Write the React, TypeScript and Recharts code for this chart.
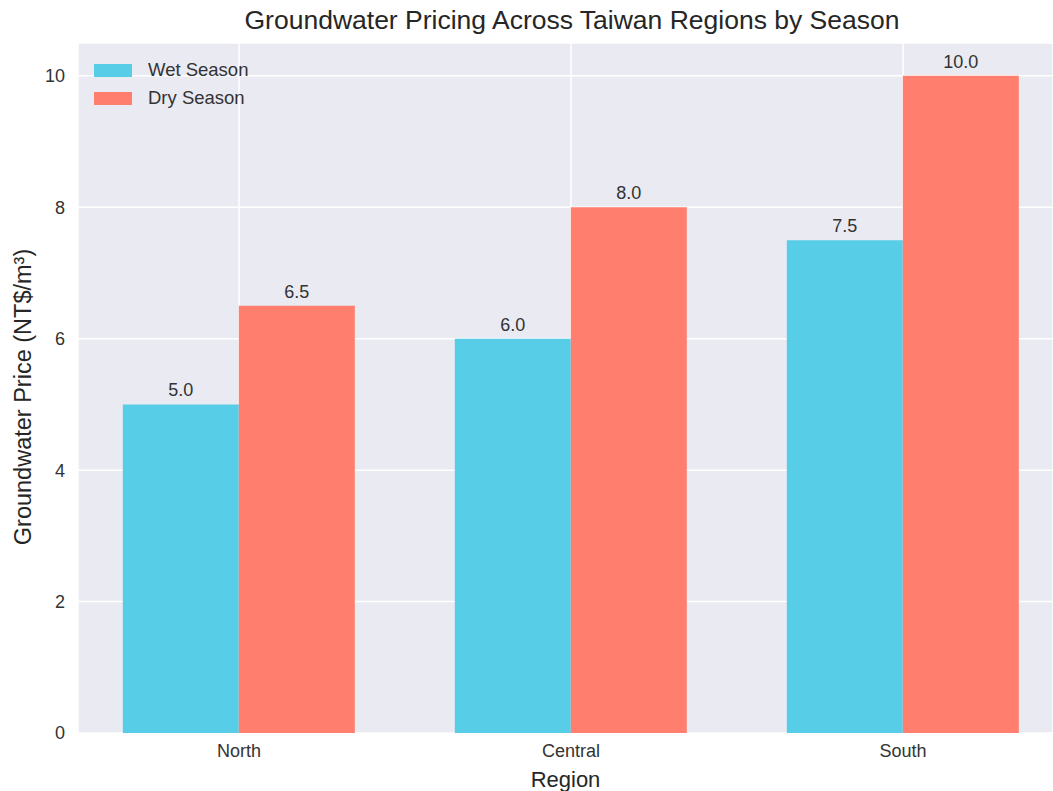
import React from 'react';
import { BarChart, Bar, XAxis, YAxis, CartesianGrid, LabelList } from 'recharts';

const regions = ['North', 'Central', 'South'];
const wetSeason = [5.0, 6.0, 7.5];
const drySeason = [6.5, 8.0, 10.0];
const yTicks = [0, 2, 4, 6, 8, 10];

const WET = '#58CDE7';
const DRY = '#FF7E6D';
const FONT = '"Liberation Sans", Arial, sans-serif';

const data = regions.map((region, i) => ({
  region,
  wet: wetSeason[i],
  dry: drySeason[i],
}));

const LegendBox = () => (
  <div style={{ position: 'absolute', left: 94, top: 56, fontFamily: FONT, fontSize: 18.5, color: '#333', zIndex: 2 }}>
    {[
      { label: 'Wet Season', color: WET },
      { label: 'Dry Season', color: DRY },
    ].map((item) => (
      <div key={item.label} style={{ display: 'flex', alignItems: 'center', height: 28 }}>
        <span style={{ display: 'inline-block', width: 38, height: 13, background: item.color, marginRight: 16 }} />
        {item.label}
      </div>
    ))}
  </div>
);

const YLabel = () => (
  <text
    transform="translate(23,397) rotate(-90)"
    textAnchor="middle"
    dominantBaseline="central"
    fill="#262626"
    fontSize={23.5}
    fontFamily={FONT}
  >
    Groundwater Price (NT$/m³)
  </text>
);

const App = () => {
  return (
    <div style={{ position: 'absolute', left: 0, top: 0, width: 1053, height: 791, background: '#fff', fontFamily: FONT, overflow: 'hidden' }}>
      <div
        style={{
          position: 'absolute',
          top: 5,
          left: 0,
          width: 1144,
          textAlign: 'center',
          fontSize: 26.5,
          color: '#262626',
        }}
      >
        Groundwater Pricing Across Taiwan Regions by Season
      </div>
      <BarChart
        width={1053}
        height={791}
        data={data}
        margin={{ top: 43, right: 0, bottom: 0, left: 0 }}
        barCategoryGap="15%"
        barGap={0}
      >
        <CartesianGrid fill="#EAEAF2" stroke="#ffffff" strokeWidth={1.5} />
        <XAxis
          dataKey="region"
          height={58}
          axisLine={false}
          tickLine={false}
          tickSize={0}
          tickMargin={11}
          padding={{ left: -5, right: -16 }}
          tick={{ fill: '#333', fontSize: 18, fontFamily: FONT }}
          label={{ value: 'Region', position: 'insideBottom', offset: 4, fill: '#262626', fontSize: 22, fontFamily: FONT }}
        />
        <YAxis
          width={78}
          domain={[0, 10.5]}
          ticks={yTicks}
          axisLine={false}
          tickLine={false}
          tickSize={0}
          tickMargin={13}
          tick={{ fill: '#333', fontSize: 18, fontFamily: FONT }}
          label={{ content: () => <YLabel /> }}
        />
        <Bar dataKey="wet" name="Wet Season" fill={WET} isAnimationActive={false}>
          <LabelList
            dataKey="wet"
            position="top"
            offset={8}
            formatter={(v: number) => v.toFixed(1)}
            fill="#333"
            fontSize={18}
            fontFamily={FONT}
          />
        </Bar>
        <Bar dataKey="dry" name="Dry Season" fill={DRY} isAnimationActive={false}>
          <LabelList
            dataKey="dry"
            position="top"
            offset={8}
            formatter={(v: number) => v.toFixed(1)}
            fill="#333"
            fontSize={18}
            fontFamily={FONT}
          />
        </Bar>
      </BarChart>
      <LegendBox />
    </div>
  );
};

export default App;
